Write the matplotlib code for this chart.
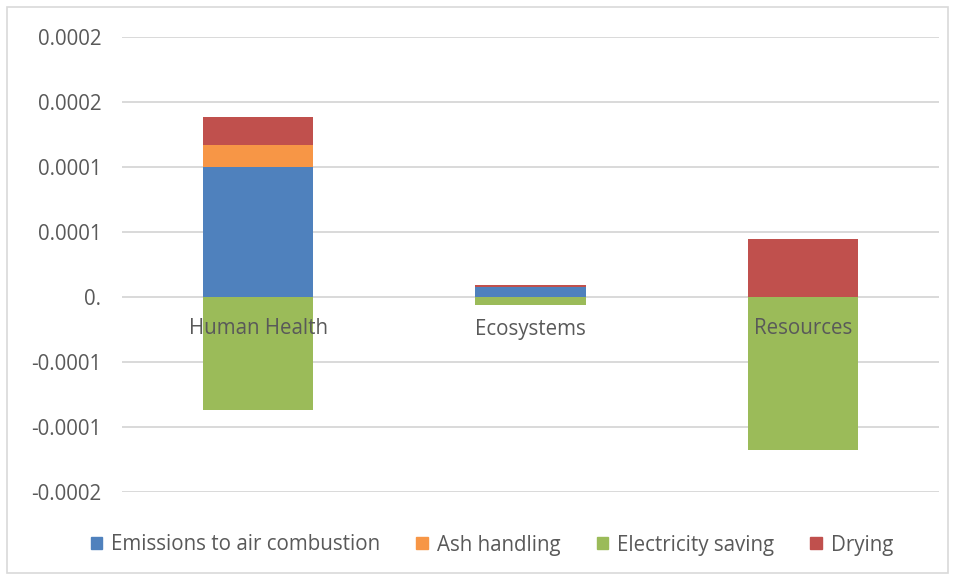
import matplotlib
matplotlib.use("Agg")
import matplotlib.pyplot as plt
from matplotlib.patches import Rectangle, Patch
from matplotlib import transforms
import numpy as np

plt.rcParams['font.family'] = ['Open Sans', 'DejaVu Sans']

categories = ["Human Health", "Ecosystems", "Resources"]
emissions = [1.00e-4, 7.7e-6, 0.0]
ash = [1.69e-5, 0.0, 0.0]
electricity = [-8.67e-5, -6.2e-6, -1.18e-4]
drying = [2.13e-5, 1.5e-6, 4.44e-5]

tick_values = [0.0002, 0.00015, 0.0001, 0.00005, 0.0, -0.00005, -0.0001, -0.00015]
tick_labels = ["0.0002", "0.0002", "0.0001", "0.0001", "0.", "-0.0001", "-0.0001", "-0.0002"]

colors = {"emis": "#4F81BD", "ash": "#F79646", "elec": "#9BBB59", "dry": "#C0504D"}
text_color = "#595959"
grid_color = "#D9D9D9"
fs = 14.8

W, H = 956, 577
fig = plt.figure(figsize=(W / 100, H / 100), dpi=100)
ax = fig.add_axes([122 / W, (H - 492) / H, (939 - 122) / W, (492 - 37) / H])

x = np.arange(len(categories))
width = 0.405
emissions = np.array(emissions)
ash = np.array(ash)
electricity = np.array(electricity)
drying = np.array(drying)

ax.bar(x, emissions, width, color=colors["emis"], zorder=3)
ax.bar(x, ash, width, bottom=emissions, color=colors["ash"], zorder=3)
ax.bar(x, electricity, width, color=colors["elec"], zorder=3)
ax.bar(x, drying, width, bottom=emissions + ash, color=colors["dry"], zorder=3)

ax.set_xlim(-0.5, len(categories) - 0.5)
ax.set_ylim(-0.00015, 0.0002)
ax.set_yticks(tick_values)
ax.set_yticklabels(tick_labels)
ax.yaxis.grid(True, color=grid_color, linewidth=1.4, zorder=0)
ax.set_axisbelow(True)
ax.tick_params(axis='y', length=0, pad=15, labelsize=fs, labelcolor=text_color)
ax.set_xticks([])
for s in ax.spines.values():
    s.set_visible(False)

# category labels sit just under the zero line, across the bars
offset = transforms.offset_copy(ax.transData, fig=fig, x=0, y=-32, units='dots')
for xi, name in zip(x, categories):
    ax.text(xi, 0, name, transform=offset, ha='center', va='center',
            fontsize=fs, color=text_color, zorder=5)

handles = [Patch(color=colors["emis"], label="Emissions to air combustion"),
           Patch(color=colors["ash"], label="Ash handling"),
           Patch(color=colors["elec"], label="Electricity saving"),
           Patch(color=colors["dry"], label="Drying")]
fig.legend(handles=handles, loc='center', bbox_to_anchor=(492 / W, 1 - 545 / H),
           ncol=4, frameon=False, fontsize=fs, labelcolor=text_color,
           handlelength=0.55, handleheight=0.55, handletextpad=0.45, columnspacing=1.75)

# outer chart frame
fig.patches.append(Rectangle((7 / W, 4 / H), (948 - 7) / W, (570 - 4) / H,
                             transform=fig.transFigure, fill=False,
                             edgecolor=grid_color, linewidth=1.2))

fig.savefig("out.png", dpi=100, facecolor="white")
